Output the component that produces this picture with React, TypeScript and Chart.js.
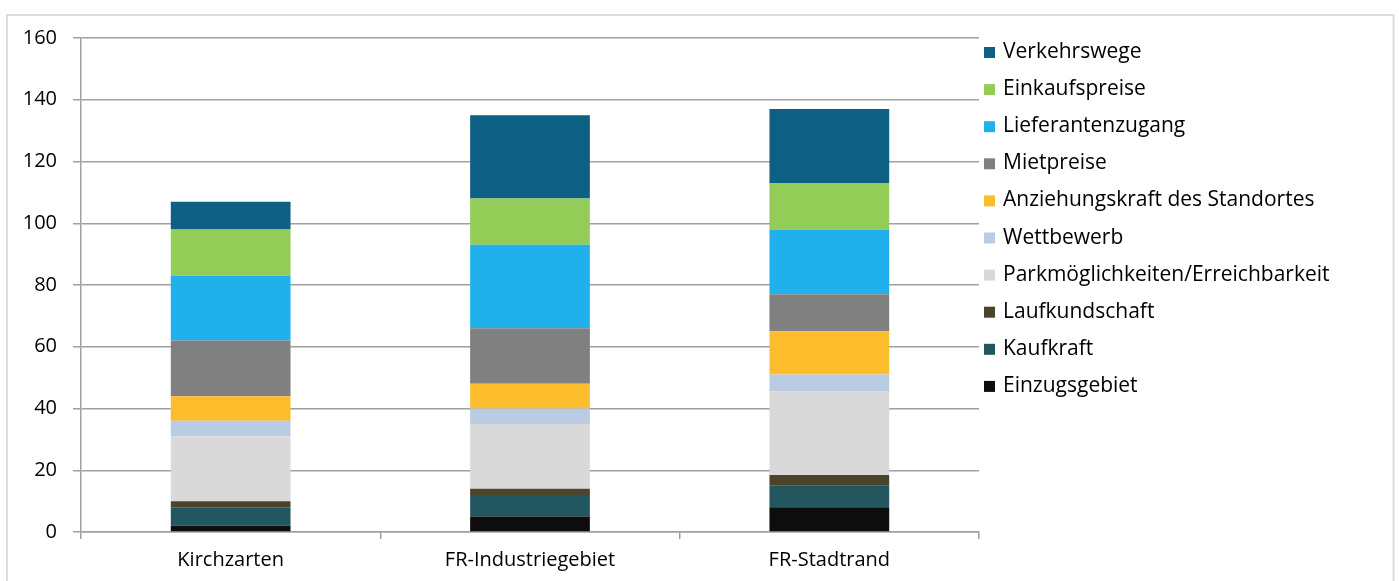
import React, { useEffect, useRef } from "react";
import { Chart, registerables } from "chart.js";

Chart.register(...registerables);

// Locations compared
const categories = ["Kirchzarten", "FR-Industriegebiet", "FR-Stadtrand"];

// Factor scores per location (stacked bottom to top)
const einzugsgebiet = [2, 5, 8];
const kaufkraft = [6, 7, 7];
const laufkundschaft = [2, 2, 3.5];
const parkmoeglichkeiten = [21, 21, 27];
const wettbewerb = [5, 5, 5.5];
const anziehungskraft = [8, 8, 14];
const mietpreise = [18, 18, 12];
const lieferantenzugang = [21, 27, 21];
const einkaufspreise = [15, 15, 15];
const verkehrswege = [9, 27, 24];

const seriesLabels = [
  "Einzugsgebiet",
  "Kaufkraft",
  "Laufkundschaft",
  "Parkmöglichkeiten/Erreichbarkeit",
  "Wettbewerb",
  "Anziehungskraft des Standortes",
  "Mietpreise",
  "Lieferantenzugang",
  "Einkaufspreise",
  "Verkehrswege",
];
const seriesValues = [
  einzugsgebiet,
  kaufkraft,
  laufkundschaft,
  parkmoeglichkeiten,
  wettbewerb,
  anziehungskraft,
  mietpreise,
  lieferantenzugang,
  einkaufspreise,
  verkehrswege,
];
const seriesColors = [
  "#0d0d0d",
  "#23575f",
  "#4a442b",
  "#d9d9d9",
  "#b9cce4",
  "#fcbd2d",
  "#808080",
  "#20b0eb",
  "#93cd57",
  "#0e5f84",
];

const yTicks = [0, 20, 40, 60, 80, 100, 120, 140, 160];

const FONT = "'Open Sans', 'DejaVu Sans', sans-serif";
const AXIS_GRAY = "#a0a0a0";

// Thin light frame around the whole chart
const framePlugin = {
  id: "frame",
  beforeDraw(chart: any) {
    const { ctx, width, height } = chart;
    ctx.save();
    ctx.strokeStyle = "#dcdcdc";
    ctx.lineWidth = 2;
    ctx.beginPath();
    ctx.moveTo(7, height + 2);
    ctx.lineTo(7, 15);
    ctx.lineTo(width - 5.5, 15);
    ctx.lineTo(width - 5.5, height + 2);
    ctx.stroke();
    ctx.restore();
  },
};

// Legend column to the right of the plot, top series first
const legendPlugin = {
  id: "sideLegend",
  afterDraw(chart: any) {
    const { ctx, chartArea } = chart;
    const sets = chart.data.datasets.slice().reverse();
    ctx.save();
    ctx.font = `21px ${FONT}`;
    ctx.textBaseline = "alphabetic";
    ctx.textAlign = "left";
    sets.forEach((ds: any, i: number) => {
      const baseline = chartArea.top + 20 + i * 37.1;
      const boxX = chartArea.right + 5;
      ctx.fillStyle = ds.backgroundColor;
      ctx.fillRect(boxX, baseline - 11, 11, 11);
      ctx.fillStyle = "#000";
      ctx.fillText(ds.label, chartArea.right + 24, baseline);
    });
    ctx.restore();
  },
};

export default function App() {
  const canvasRef = useRef<HTMLCanvasElement | null>(null);

  useEffect(() => {
    if (!canvasRef.current) return;
    const chart = new Chart(canvasRef.current, {
      type: "bar",
      data: {
        labels: categories,
        datasets: seriesLabels.map((label, i) => ({
          label,
          data: seriesValues[i],
          backgroundColor: seriesColors[i],
          borderWidth: 0,
          categoryPercentage: 1,
          barPercentage: 0.4,
        })),
      },
      options: {
        animation: false,
        responsive: true,
        maintainAspectRatio: false,
        layout: { padding: { top: 38, left: 0, right: 420, bottom: 0 } },
        plugins: {
          legend: { display: false },
          tooltip: { enabled: false },
        },
        scales: {
          x: {
            stacked: true,
            grid: {
              display: true,
              drawOnChartArea: false,
              drawTicks: true,
              tickLength: 7,
              color: AXIS_GRAY,
              lineWidth: 1.5,
            },
            border: { display: true, color: AXIS_GRAY, width: 1.5 },
            ticks: {
              color: "#000",
              padding: 9,
              font: { family: FONT, size: 20 },
            },
            afterFit(scale: any) {
              scale.height = 49;
            },
          },
          y: {
            stacked: true,
            min: 0,
            max: 160,
            afterBuildTicks(scale: any) {
              scale.ticks = yTicks.map((v) => ({ value: v }));
            },
            grid: {
              color: AXIS_GRAY,
              lineWidth: 1.5,
              drawTicks: true,
              tickLength: 8,
            },
            border: { display: true, color: AXIS_GRAY, width: 1.5 },
            ticks: {
              color: "#000",
              padding: 16,
              font: { family: FONT, size: 20 },
            },
            afterFit(scale: any) {
              scale.width = 81;
            },
          },
        },
      },
      plugins: [framePlugin, legendPlugin],
    });
    return () => chart.destroy();
  }, []);

  return (
    <div
      style={{
        position: "fixed",
        left: 0,
        top: 0,
        width: 1399,
        height: 581,
        background: "#fff",
      }}
    >
      <canvas ref={canvasRef} />
    </div>
  );
}
